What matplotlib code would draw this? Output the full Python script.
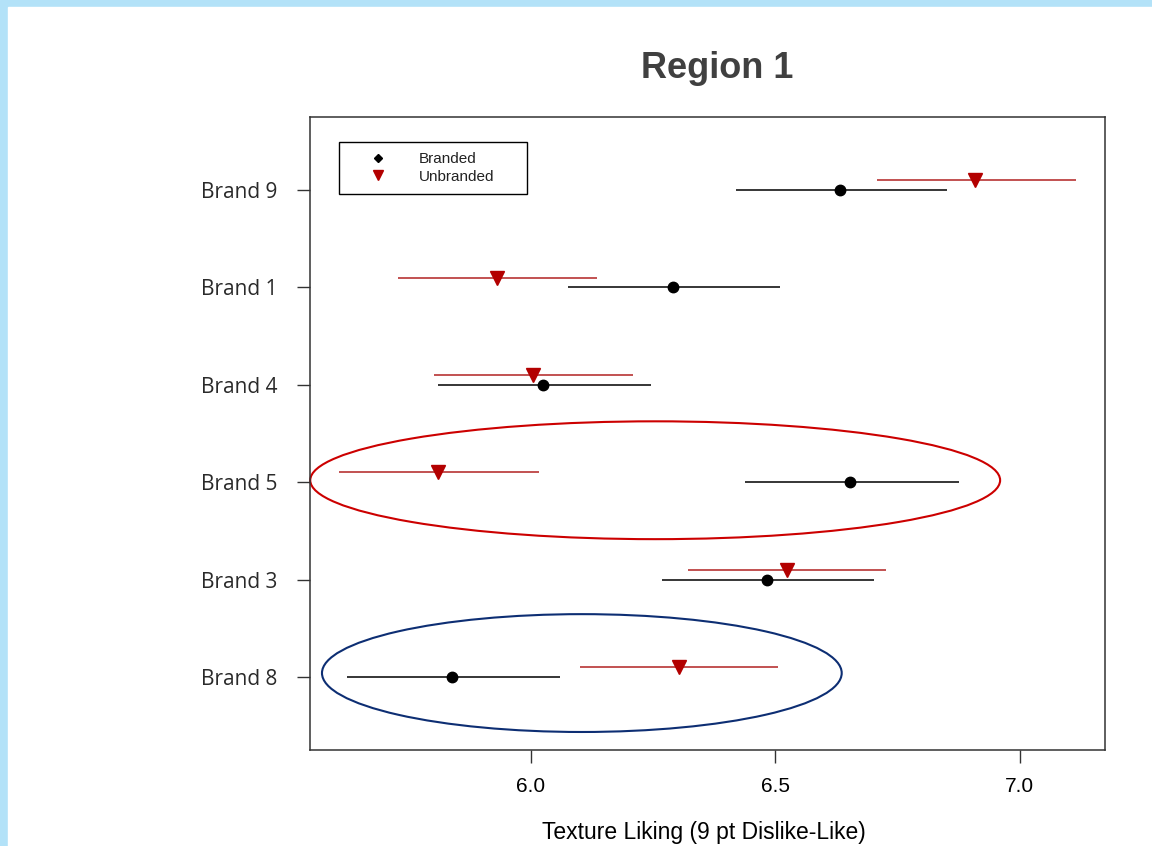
import matplotlib
matplotlib.use("Agg")
import matplotlib.pyplot as plt
from matplotlib.patches import Ellipse, Rectangle
import numpy as np

brands = ["Brand 8", "Brand 3", "Brand 5", "Brand 4", "Brand 1", "Brand 9"]
branded_mean = [5.838, 6.483, 6.652, 6.025, 6.290, 6.632]
branded_lo = [5.624, 6.268, 6.438, 5.810, 6.076, 6.419]
branded_hi = [6.059, 6.701, 6.875, 6.245, 6.509, 6.851]
unbranded_mean = [6.303, 6.524, 5.810, 6.004, 5.930, 6.908]
unbranded_lo = [6.100, 6.321, 5.607, 5.802, 5.728, 6.708]
unbranded_hi = [6.505, 6.726, 6.016, 6.209, 6.135, 7.115]
xticks = [6.0, 6.5, 7.0]
legend_labels = ["Branded", "Unbranded"]

W, H = 1152, 846
fig = plt.figure(figsize=(W / 100, H / 100), dpi=100)
# background frame
fig.patches.append(Rectangle((0, 0), 1, 1, transform=fig.transFigure, color="#b3e2f8", zorder=-10))
fig.patches.append(Rectangle((8/W, 0), 1, 1 - 7/H, transform=fig.transFigure, color="white", zorder=-9))

L, R, T, B = 310, 1105, 117, 750
ax = fig.add_axes([L/W, 1 - B/H, (R-L)/W, (B-T)/H])
y = np.arange(1, len(brands) + 1)
off = 0.1

ax.hlines(y, branded_lo, branded_hi, color="black", lw=1.1)
ax.plot(branded_mean, y, "o", color="black", ms=7.5)
ax.hlines(y + off, unbranded_lo, unbranded_hi, color="#b22222", lw=1.1)
ax.plot(unbranded_mean, y + off, "v", color="#b30000", ms=9.5)

ax.add_patch(Ellipse((6.254, 3.02), 1.411, 1.21, fill=False, ec="#cc0000", lw=1.5, clip_on=False))
ax.add_patch(Ellipse((6.104, 1.04), 1.063, 1.21, fill=False, ec="#0d2e73", lw=1.5, clip_on=False))

ax.set_xlim(5.548, 7.174)
ax.set_ylim(0.25, 6.75)
ax.set_xticks(xticks)
ax.set_xticklabels([f"{v:.1f}" for v in xticks], fontsize=15, family="Liberation Sans")
ax.set_yticks(y)
ax.set_yticklabels(brands, fontsize=15, family="Open Sans", color="#2a2a2a")
ax.tick_params(axis="both", length=9.5, width=1, color="#333333")
ax.tick_params(axis="y", pad=14)
ax.tick_params(axis="x", pad=10)
for s in ax.spines.values():
    s.set_linewidth(1.1)
    s.set_color("#333333")

fig.text(704/W, 1 - 832/H, "Texture Liking (9 pt Dislike-Like)", ha="center", va="center",
         fontsize=16.5, family="Liberation Sans")

# manual legend box (axes coordinates)
def axx(px):
    return (px - L) / (R - L)

def axy(py):
    return (B - py) / (B - T)

ax.add_patch(Rectangle((axx(339), axy(194)), axx(527) - axx(339), axy(142) - axy(194),
                       transform=ax.transAxes, fill=False, ec="black", lw=1.0, zorder=5))
ax.plot([axx(378)], [axy(158)], "D", color="black", ms=4.5, transform=ax.transAxes, zorder=6)
ax.plot([axx(378)], [axy(175)], "v", color="#b30000", ms=6.5, transform=ax.transAxes, zorder=6)
ax.text(axx(419), axy(159), legend_labels[0], transform=ax.transAxes, ha="left", va="center",
        fontsize=11, family="Liberation Sans", color="#222222")
ax.text(axx(419), axy(177), legend_labels[1], transform=ax.transAxes, ha="left", va="center",
        fontsize=11, family="Liberation Sans", color="#222222")

fig.text(717/W, 1 - 68/H, "Region 1", ha="center", va="center", fontsize=26,
         fontweight="bold", family="Liberation Sans", color="#404040")

fig.savefig("out.png", dpi=100)
